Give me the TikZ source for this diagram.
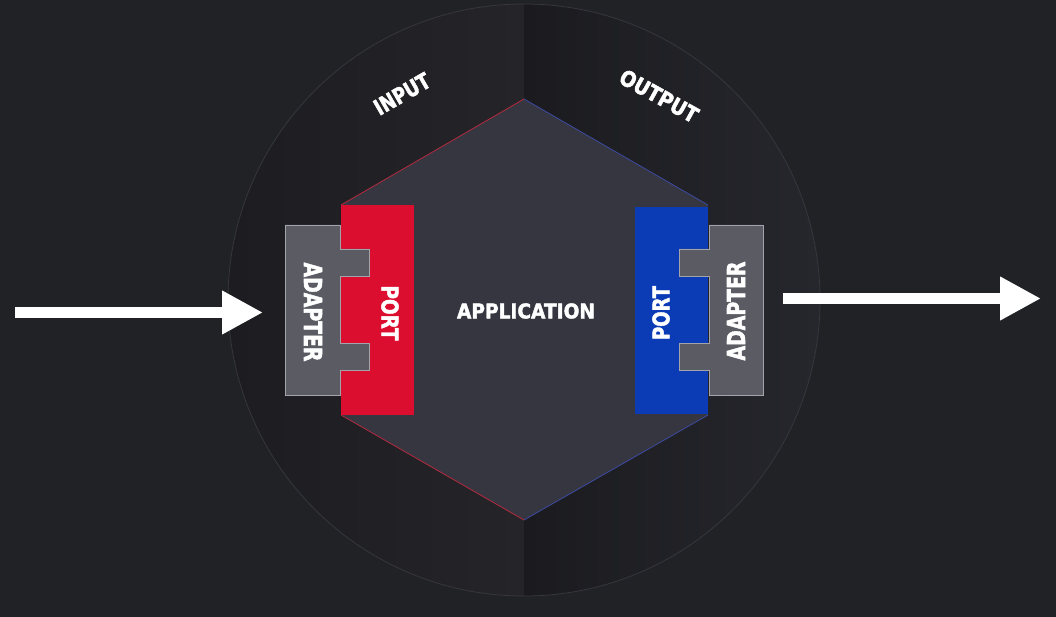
\documentclass[tikz,border=0pt]{standalone}
\usepackage{fontspec}
\setmainfont{DejaVu Sans}[BoldFeatures={FakeBold=2.2}]
\usetikzlibrary{arrows.meta}
\definecolor{bgc}{HTML}{212226}
\definecolor{circLa}{HTML}{1D1D21}
\definecolor{circLb}{HTML}{252529}
\definecolor{circRa}{HTML}{1B1B1F}
\definecolor{circRb}{HTML}{26272D}
\definecolor{ringc}{HTML}{36373D}
\definecolor{hexc}{HTML}{35363F}
\definecolor{hexred}{HTML}{B52A40}
\definecolor{hexblue}{HTML}{3D4BA3}
\definecolor{portred}{HTML}{DC0E30}
\definecolor{portblue}{HTML}{0B3CB6}
\definecolor{adapterc}{HTML}{5A5B63}
\definecolor{adapterline}{HTML}{A3A4AB}
\newcommand\fitlbl[3]{\resizebox{#1}{#2}{\bfseries #3}}
\begin{document}
\begin{tikzpicture}[x=1pt,y=-1pt,
  lbl/.style={text=white,inner sep=0pt,outer sep=0pt},
  adapterbox/.style={fill=adapterc,draw=adapterline,line width=0.9pt,line join=miter},
  flowarrow/.style={white,line width=11pt,-{Triangle[length=41pt,width=41pt]}}]
\useasboundingbox (0,0) rectangle (1056,617);
\fill[bgc] (0,0) rectangle (1056,617);
% circle with two half shadings
\begin{scope}
  \clip (524,300) circle[radius=296];
  \shade[left color=circLa,right color=circLb] (228,0) rectangle (524,617);
  \shade[left color=circRa,right color=circRb] (524,0) rectangle (820,617);
\end{scope}
\draw[ringc,line width=0.8pt] (524,300) circle[radius=296];
% hexagon
\fill[hexc] (524,99) -- (708,205) -- (708,415) -- (524,520) -- (341,415) -- (341,205) -- cycle;
\draw[hexred,line width=0.8pt] (341,205) -- (524,99);
\draw[hexred,line width=0.8pt] (341,415) -- (524,520);
\draw[hexblue,line width=0.8pt] (524,99) -- (708,205);
\draw[hexblue,line width=0.8pt] (708,415) -- (524,520);
% ports
\fill[portred] (341,205) rectangle (414,415);
\fill[portblue] (635,207) rectangle (708,414);
% adapters
\draw[adapterbox] (285,225) -- (340,225) -- (340,249) -- (369,249) -- (369,276) -- (340,276) -- (340,343) -- (369,343) -- (369,370) -- (340,370) -- (340,395) -- (285,395) -- cycle;
\draw[adapterbox] (763,225) -- (709,225) -- (709,249) -- (679,249) -- (679,276) -- (709,276) -- (709,343) -- (679,343) -- (679,370) -- (709,370) -- (709,395) -- (763,395) -- cycle;
% labels
\node[lbl,rotate=-90] (adapterL) at (313,312) {\fitlbl{99pt}{18pt}{ADAPTER}};
\node[lbl,rotate=-90] (portL) at (390,313) {\fitlbl{55pt}{17pt}{PORT}};
\node[lbl,rotate=90] (portR) at (661,313) {\fitlbl{54pt}{17pt}{PORT}};
\node[lbl,rotate=90] (adapterR) at (736,311) {\fitlbl{99pt}{18pt}{ADAPTER}};
\node[lbl] (app) at (526,311) {\fitlbl{138pt}{15pt}{APPLICATION}};
\node[lbl,rotate=30] (inputLbl) at (402,94) {\fitlbl{61pt}{16pt}{INPUT}};
\node[lbl,rotate=-29] (outputLbl) at (659,96) {\fitlbl{86pt}{16pt}{OUTPUT}};
% arrows
\coordinate (inTail) at (15,312.5);
\coordinate (inTip) at (263,312.5);
\coordinate (outTail) at (783,298.5);
\coordinate (outTip) at (1041,298.5);
\draw[flowarrow] (inTail) -- (inTip);
\draw[flowarrow] (outTail) -- (outTip);
\end{tikzpicture}
\end{document}
